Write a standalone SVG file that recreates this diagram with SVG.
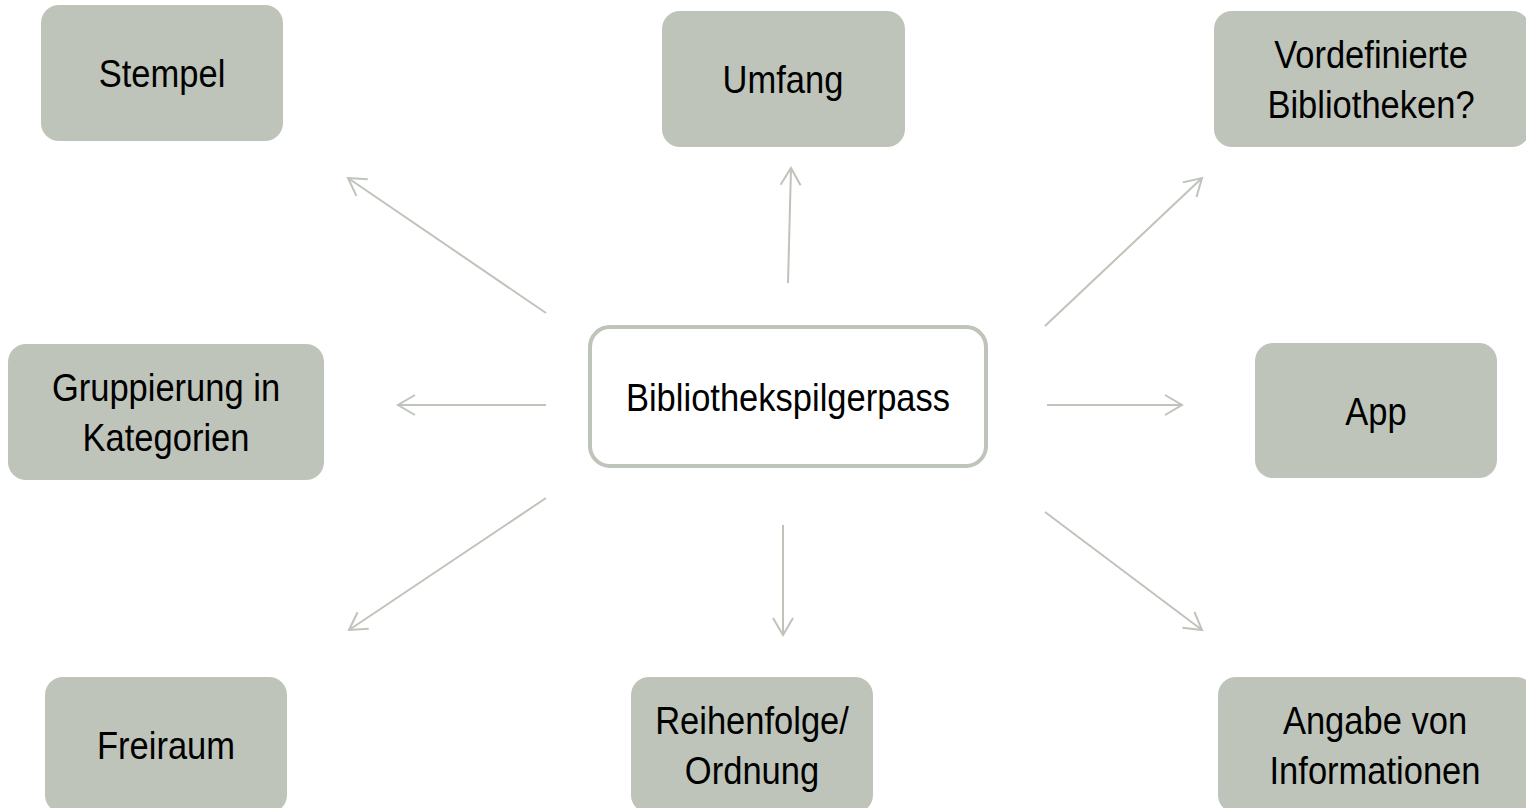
<svg xmlns="http://www.w3.org/2000/svg" width="1526" height="808" viewBox="0 0 1526 808">
<defs>
<style>
.box{fill:#BFC4BA;}
.hub{fill:#FFFFFF;stroke:#BFC4BA;stroke-width:4;}
.lbl{font-family:"Liberation Sans",Arial,sans-serif;font-size:39px;fill:#000000;text-anchor:middle;}
.conn line{stroke:#BFC4BA;stroke-width:2;fill:none;marker-end:url(#ah);}
</style>
<marker id="ah" viewBox="-20 -12 24 24" markerUnits="userSpaceOnUse" markerWidth="24" markerHeight="24" refX="0" refY="0" orient="auto">
<path d="M-17,-10 L0,0 L-17,10" fill="none" stroke="#BFC4BA" stroke-width="2"/>
</marker>
</defs>
<rect width="1526" height="808" fill="#FFFFFF"/>
<g class="conn" id="connectors">
<line x1="546" y1="313" x2="348" y2="178"/>
<line x1="788" y1="283" x2="791" y2="168"/>
<line x1="1045" y1="326" x2="1202" y2="178"/>
<line x1="546" y1="405" x2="398" y2="405"/>
<line x1="1047" y1="405" x2="1182" y2="405"/>
<line x1="546" y1="498" x2="349" y2="630"/>
<line x1="783" y1="525" x2="783" y2="635"/>
<line x1="1045" y1="512" x2="1202" y2="630"/>
</g>
<g id="center">
<rect class="hub" x="590" y="327" width="396" height="139" rx="20"/>
<g transform="translate(788,0) scale(0.885,1)"><text class="lbl" x="0" y="411">Bibliothekspilgerpass</text></g>
</g>
<g id="stempel">
<rect class="box" x="41" y="5" width="242" height="136" rx="18"/>
<g transform="translate(162,0) scale(0.885,1)"><text class="lbl" x="0" y="87">Stempel</text></g>
</g>
<g id="umfang">
<rect class="box" x="662" y="11" width="243" height="136" rx="18"/>
<g transform="translate(783,0) scale(0.885,1)"><text class="lbl" x="0" y="93">Umfang</text></g>
</g>
<g id="vordefinierte">
<rect class="box" x="1214" y="11" width="316" height="136" rx="18"/>
<g transform="translate(1371,0) scale(0.885,1)"><text class="lbl" x="0" y="68">Vordefinierte</text><text class="lbl" x="0" y="118">Bibliotheken?</text></g>
</g>
<g id="gruppierung">
<rect class="box" x="8" y="344" width="316" height="136" rx="18"/>
<g transform="translate(166,0) scale(0.885,1)"><text class="lbl" x="0" y="401">Gruppierung in</text><text class="lbl" x="0" y="451">Kategorien</text></g>
</g>
<g id="app">
<rect class="box" x="1255" y="343" width="242" height="135" rx="18"/>
<g transform="translate(1376,0) scale(0.885,1)"><text class="lbl" x="0" y="425">App</text></g>
</g>
<g id="freiraum">
<rect class="box" x="45" y="677" width="242" height="136" rx="18"/>
<g transform="translate(166,0) scale(0.885,1)"><text class="lbl" x="0" y="759">Freiraum</text></g>
</g>
<g id="reihenfolge">
<rect class="box" x="631" y="677" width="242" height="136" rx="18"/>
<g transform="translate(752,0) scale(0.885,1)"><text class="lbl" x="0" y="734">Reihenfolge/</text><text class="lbl" x="0" y="784">Ordnung</text></g>
</g>
<g id="angabe">
<rect class="box" x="1218" y="677" width="316" height="136" rx="18"/>
<g transform="translate(1375,0) scale(0.885,1)"><text class="lbl" x="0" y="734">Angabe von</text><text class="lbl" x="0" y="784">Informationen</text></g>
</g>
</svg>
